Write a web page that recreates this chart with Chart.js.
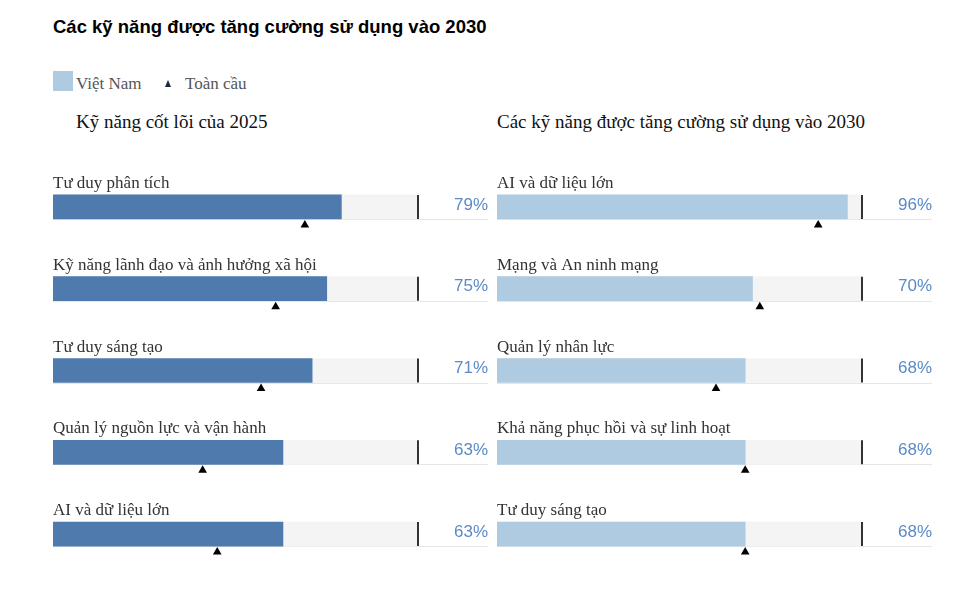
<!DOCTYPE html>
<html>
<head>
<meta charset="utf-8">
<script src="https://cdn.jsdelivr.net/npm/chart.js@4.4.1/dist/chart.umd.min.js"></script>
<style>
  html,body{margin:0;padding:0;background:#fff;}
  body{width:980px;height:592px;position:relative;overflow:hidden;}
  .t{position:absolute;white-space:nowrap;}
  #title{left:53px;top:18px;font:bold 18.5px "Liberation Sans",Arial,sans-serif;line-height:18.5px;color:#000;}
  .leg{top:75px;font:17px "Liberation Serif","Times New Roman",serif;line-height:17px;color:#555;}
  #legBox{position:absolute;left:53px;top:71px;width:20px;height:20px;background:#aecbe2;}
  #legTri{position:absolute;left:165px;top:80px;width:0;height:0;border-left:3.5px solid transparent;border-right:3.5px solid transparent;border-bottom:7px solid #1d2744;}
  .sub{top:112px;font:19px "Liberation Serif","Times New Roman",serif;line-height:19px;color:#111;}
  .panel{position:absolute;top:160px;width:490px;height:420px;}
</style>
</head>
<body>
<div id="title" class="t">Các kỹ năng được tăng cường sử dụng vào 2030</div>
<div id="legBox"></div>
<div class="t leg" style="left:76px;">Việt Nam</div>
<div id="legTri"></div>
<div class="t leg" style="left:185px;">Toàn cầu</div>
<div class="t sub" style="left:76px;">Kỹ năng cốt lõi của 2025</div>
<div class="t sub" style="left:497px;">Các kỹ năng được tăng cường sử dụng vào 2030</div>

<div class="panel" style="left:0px;"><canvas id="c1" width="490" height="420"></canvas></div>
<div class="panel" style="left:444px;"><canvas id="c2" width="490" height="420"></canvas></div>

<script>
// ---- Data ----
const categories2025 = ['Tư duy phân tích','Kỹ năng lãnh đạo và ảnh hưởng xã hội','Tư duy sáng tạo','Quản lý nguồn lực và vận hành','AI và dữ liệu lớn'];
const vietnam2025 = [79, 75, 71, 63, 63];
const global2025 = [69, 61, 57, 41, 45];

const categories2030 = ['AI và dữ liệu lớn','Mạng và An ninh mạng','Quản lý nhân lực','Khả năng phục hồi và sự linh hoạt','Tư duy sáng tạo'];
const vietnam2030 = [96, 70, 68, 68, 68];
const global2030 = [88, 72, 60, 68, 68];

const SCALE_MAX = 100;

// ---- Styling constants ----
const BAR_THICKNESS = 24;
const TRI_OFFSET = 0.22;     // triangle sits just below bar (row units)
const LABEL_GAP = 70;        // percentage label right edge beyond 100% mark

const decor = {
  id: 'decor',
  beforeDatasetsDraw(chart) {
    const {ctx, chartArea: a} = chart;
    const meta = chart.getDatasetMeta(1);
    ctx.save();
    ctx.strokeStyle = '#e6e6e6';
    ctx.lineWidth = 1;
    meta.data.forEach(b => {
      const h = b.height || BAR_THICKNESS;
      const y = Math.round(b.y + h / 2) + 0.5;
      ctx.beginPath();
      ctx.moveTo(a.left, y);
      ctx.lineTo(a.right + LABEL_GAP, y);
      ctx.stroke();
    });
    ctx.restore();
  },
  afterDatasetsDraw(chart) {
    const {ctx, chartArea: a} = chart;
    const meta = chart.getDatasetMeta(1);
    const cats = chart.data.labels;
    const vals = chart.data.datasets[1].data;
    const xEnd = chart.scales.x.getPixelForValue(SCALE_MAX);
    ctx.save();
    meta.data.forEach((b, i) => {
      const h = b.height || BAR_THICKNESS;
      // 100% marker
      ctx.strokeStyle = '#000';
      ctx.lineWidth = 1.6;
      ctx.beginPath();
      ctx.moveTo(xEnd, b.y - h / 2);
      ctx.lineTo(xEnd, b.y + h / 2);
      ctx.stroke();
      // category label above bar
      ctx.fillStyle = '#333';
      ctx.font = '17px "Liberation Serif", "Times New Roman", serif';
      ctx.textAlign = 'left';
      ctx.textBaseline = 'alphabetic';
      ctx.fillText(cats[i], a.left, b.y - h / 2 - 7);
      // value label
      ctx.fillStyle = '#5b8ac6';
      ctx.font = '17px "Liberation Sans", Arial, sans-serif';
      ctx.textAlign = 'right';
      ctx.textBaseline = 'middle';
      ctx.fillText(vals[i] + '%', a.right + LABEL_GAP, b.y - 2);
    });
    ctx.restore();
  }
};

function makeChart(id, cats, vn, gl, color) {
  return new Chart(document.getElementById(id), {
    type: 'bar',
    data: {
      labels: cats,
      datasets: [
        {
          label: 'track',
          data: cats.map(() => SCALE_MAX),
          backgroundColor: '#f4f4f4',
          barThickness: BAR_THICKNESS,
          grouped: false,
          order: 3,
          borderWidth: 0
        },
        {
          label: 'Việt Nam',
          data: vn,
          backgroundColor: color,
          barThickness: BAR_THICKNESS,
          grouped: false,
          order: 2,
          borderWidth: 0
        },
        {
          type: 'scatter',
          label: 'Toàn cầu',
          data: gl.map((v, i) => ({x: v, y: i + TRI_OFFSET})),
          xAxisID: 'x',
          yAxisID: 'yT',
          pointStyle: 'triangle',
          pointRadius: 5,
          pointHoverRadius: 5,
          backgroundColor: '#000',
          borderColor: '#000',
          borderWidth: 0,
          order: 1
        }
      ]
    },
    options: {
      indexAxis: 'y',
      responsive: false,
      animation: false,
      layout: {padding: {left: 53, right: 72, top: 6, bottom: 4}},
      plugins: {legend: {display: false}, tooltip: {enabled: false}, title: {display: false}},
      scales: {
        x: {type: 'linear', axis: 'x', min: 0, max: SCALE_MAX, display: false, offset: false},
        y: {type: 'category', axis: 'y', offset: true, display: false},
        yT: {type: 'linear', axis: 'y', min: -0.5, max: cats.length - 0.5, reverse: true, offset: false, display: false}
      }
    },
    plugins: [decor]
  });
}

makeChart('c1', categories2025, vietnam2025, global2025, '#4f7aad');
makeChart('c2', categories2030, vietnam2030, global2030, '#aecbe2');
</script>
</body>
</html>
